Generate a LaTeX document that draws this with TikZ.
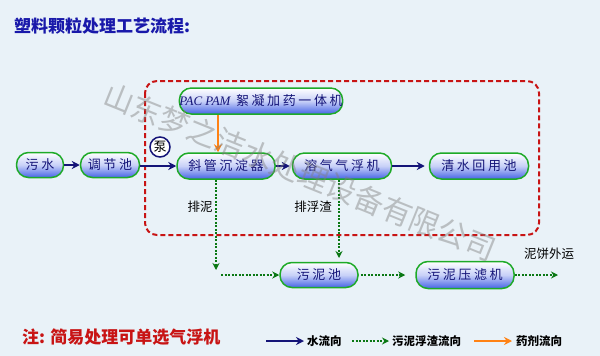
\documentclass[tikz,border=0pt]{standalone}
\usepackage{fontspec}
\usetikzlibrary{arrows.meta}
\newfontfamily\cjk{Noto Sans CJK SC}
\newfontfamily\nodefont[LetterSpace=20]{Noto Sans CJK SC}
\newfontfamily\latinserif{Liberation Serif}
\definecolor{bg}{RGB}{233,242,248}
\definecolor{navy}{RGB}{20,20,120}
\definecolor{ngreen}{RGB}{30,170,40}
\definecolor{nblue}{RGB}{70,100,230}
\definecolor{dred}{RGB}{200,20,20}
\definecolor{dgreen}{RGB}{10,120,20}
\definecolor{orng}{RGB}{255,130,20}
\definecolor{ttlblue}{RGB}{25,25,170}
\definecolor{ntext}{RGB}{20,20,120}
\tikzset{
  proc/.style={draw=ngreen, line width=1.5pt, rounded corners=12pt,
    top color=white, bottom color=nblue, middle color=white!70!nblue,
    minimum height=25pt, inner sep=0pt, text=ntext,
    font=\nodefont\fontsize{13}{13}\selectfont},
  wflow/.style={draw=navy, line width=1.6pt, -{Stealth[length=8pt,width=8pt]}},
  sflow/.style={draw=dgreen, line width=1.3pt, dash pattern=on 2pt off 1.5pt, -{Stealth[length=7pt,width=7pt]}},
  dflow/.style={draw=orng, line width=1.6pt, -{Stealth[length=8pt,width=8pt]}},
  lbl/.style={font=\cjk\fontsize{12.5}{12.5}\selectfont, text=black, inner sep=0pt},
  legtxt/.style={font=\cjk\bfseries\fontsize{11.5}{11.5}\selectfont, text=black, inner sep=0pt, anchor=west},
}
\begin{document}
\begin{tikzpicture}[x=1pt,y=-1pt]
\useasboundingbox (0,0) rectangle (600,356);
\fill[bg] (0,0) rectangle (600,356);

% title
\node[anchor=west, inner sep=0pt, text=ttlblue, font=\cjk\bfseries\fontsize{17}{17}\selectfont] (title) at (14,26) {塑料颗粒处理工艺流程:};

% red dashed frame
\draw[dred, line width=2pt, dash pattern=on 5pt off 3pt, rounded corners=12pt] (145,81) rectangle (539,235);

% process nodes
\node[proc, minimum width=47pt] (wushui) at (40,165) {污水};
\node[proc, minimum width=59pt] (tiaojie) at (110,165) {调节池};
\node[proc, minimum width=98pt, minimum height=26pt] (xieguan) at (226,166) {斜管沉淀器};
\node[proc, minimum width=159pt, minimum height=26pt] (pac) at (261,101) {{\latinserif\itshape\fontsize{13}{13}\selectfont PAC PAM} 絮凝加药一体机};
\node[proc, minimum width=99pt, minimum height=26pt] (rongqi) at (342,166) {溶气气浮机};
\node[proc, minimum width=99pt, minimum height=26pt] (qingshui) at (479,166) {清水回用池};
\node[proc, minimum width=78pt] (wunichi) at (319,275) {污泥池};
\node[proc, minimum width=98pt, minimum height=27pt] (yalv) at (465,275) {污泥压滤机};

% pump
\node[circle, draw=navy, line width=1.5pt, fill=white, minimum size=20pt, inner sep=0pt, text=black, font=\cjk\fontsize{13}{13}\selectfont] (beng) at (160,147) {泵};

% water flow
\draw[wflow] (wushui) -- (tiaojie);
\draw[wflow] (tiaojie.east |- xieguan.west) -- (xieguan.west);
\draw[wflow, shorten >=2pt] (xieguan) -- (rongqi);
\draw[wflow, shorten >=4pt] (rongqi) -- (qingshui);

% drug flow
\coordinate (oa) at (218,0);
\draw[dflow] (pac.south -| oa) -- (xieguan.north -| oa);

% sludge flow
\coordinate (g1) at (216,270);
\draw[sflow] (xieguan.south -| g1) -- (g1);
\coordinate (g2) at (221,275);
\draw[sflow] (g2) -- (wunichi.west);
\coordinate (g3) at (339,258);
\draw[sflow] (rongqi.south -| g3) -- (g3);
\draw[sflow, shorten <=2pt, shorten >=10pt] (wunichi.east) -- (yalv.west);
\coordinate (g4) at (558,275);
\draw[sflow] (yalv.east) -- (g4);

% labels
\node[lbl] (paini) at (200,207) {排泥};
\node[lbl] (paifuzha) at (313,207) {排浮渣};
\node[lbl] (nibing) at (549,254) {泥饼外运};

% note
\node[anchor=west, inner sep=0pt, text=dred, font=\cjk\bfseries\fontsize{17}{17}\selectfont] (note) at (22,337) {注: 简易处理可单选气浮机};

% legend
\coordinate (l1a) at (266,341); \coordinate (l1b) at (304,341);
\draw[wflow, line width=1.5pt] (l1a) -- (l1b);
\node[legtxt] (t1) at (307,341) {水流向};
\coordinate (l2a) at (352,341); \coordinate (l2b) at (389,341);
\draw[sflow] (l2a) -- (l2b);
\node[legtxt] (t2) at (392,341) {污泥浮渣流向};
\coordinate (l3a) at (474,341); \coordinate (l3b) at (512,341);
\draw[dflow, line width=1.5pt] (l3a) -- (l3b);
\node[legtxt] (t3) at (516,341) {药剂流向};

% watermark
\node[rotate=-22, text=gray, opacity=0.45, inner sep=0pt, font=\cjk\fontsize{30}{30}\selectfont] (wm) at (300,172) {山东梦之洁水处理设备有限公司};
\end{tikzpicture}
\end{document}
